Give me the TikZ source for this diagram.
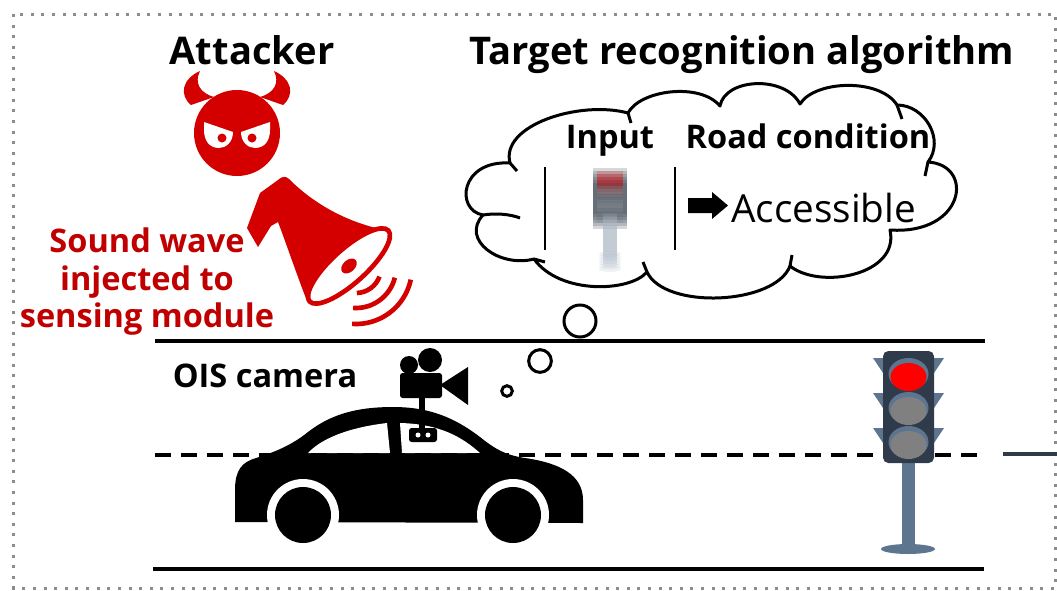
\documentclass[tikz,border=0pt]{standalone}
\usepackage{fontspec}
\setmainfont{Open Sans}
\usetikzlibrary{shapes,arrows,positioning,calc}

\definecolor{devilred}{RGB}{212,0,0}
\definecolor{textred}{RGB}{192,0,0}
\definecolor{signalbody}{RGB}{47,59,74}
\definecolor{signalpole}{RGB}{94,117,144}
\definecolor{lampgray}{RGB}{128,128,128}
\definecolor{framegray}{RGB}{140,140,140}

\begin{document}
\begin{tikzpicture}[x=0.75pt, y=-0.75pt,
    title/.style={font=\bfseries\fontsize{28.6}{30}\selectfont, anchor=base, inner sep=0pt},
    label/.style={font=\bfseries\fontsize{24.4}{28}\selectfont, anchor=base, inner sep=0pt},
    attack/.style={font=\bfseries\fontsize{24.4}{28.1}\selectfont, text=textred, align=center, inner sep=0pt},
    result/.style={font=\fontsize{29}{30}\selectfont, anchor=base west, inner sep=0pt},
    road/.style={line width=2.6pt},
    lane/.style={line width=2.4pt, dash pattern=on 12pt off 7.5pt},
    bubble/.style={draw, circle, line width=2.25pt, inner sep=0pt},
    puff/.style={line width=2.25pt, line join=round},
]
\useasboundingbox (0,0) rectangle (1057,590);

% dotted frame
\draw[framegray, line width=2.25pt, dash pattern=on 2.25pt off 5.7pt] (13.5,14) rectangle (1055.5,588);

% headings
\node[title] (attacker) at (252,64) {Attacker};
\node[title] (algo) at (742,64) {Target recognition algorithm};

% Attacker: devil head
\fill[devilred] (237,133) circle (43);
\fill[devilred] (191,105) .. controls (179,95) and (182,79) .. (200,71)
    .. controls (194,83) and (200,93) .. (214,97) -- cycle;
\fill[devilred] (283,105) .. controls (295,95) and (292,79) .. (274,71)
    .. controls (280,83) and (274,93) .. (260,97) -- cycle;
\fill[white] (204,122) -- (233,132) .. controls (233,142) and (226,148) .. (219,148)
    .. controls (209,148) and (204,140) .. (204,130) -- cycle;
\fill[white] (270,122) -- (241,132) .. controls (241,142) and (248,148) .. (255,148)
    .. controls (265,148) and (270,140) .. (270,130) -- cycle;
\fill[devilred] (222,138) circle (4.5) (252,138) circle (4.5);

% megaphone
\fill[devilred] (260,193) -- (278,180) .. controls (282,176) and (286,176) .. (289,179)
    .. controls (315,205) and (350,224) .. (390,231) -- (307,301)
    .. controls (295,270) and (285,240) .. (278,222) -- (271,226) -- (258,247) -- (247,228) -- cycle;
\begin{scope}[shift={(349,266)}, rotate=42]
  \filldraw[fill=white, draw=devilred, line width=3.5pt] (0,0) ellipse [x radius=53, y radius=17];
  \fill[devilred] (0,0) ellipse [x radius=9, y radius=6];
\end{scope}
\foreach \r/\a/\b in {25/20/88, 40/14/94, 56/12/94}
  \draw[devilred, line width=3.5pt] ($(356,268)+(\a:\r)$) arc[start angle=\a, end angle=\b, radius=\r];

\node[attack] (inject) at (147,282) {Sound wave\\injected to\\sensing module};

% thought cloud
\draw[puff] (510,163) .. controls (500,125) and (580,100) .. (628,113)
    .. controls (640,90) and (700,82) .. (720,106)
    .. controls (725,78) and (785,75) .. (800,104)
    .. controls (815,80) and (880,78) .. (897,105)
    .. controls (925,105) and (945,140) .. (928,162)
    .. controls (975,165) and (965,235) .. (890,230)
    .. controls (900,275) and (820,290) .. (790,266)
    .. controls (775,305) and (665,310) .. (647,272)
    .. controls (630,292) and (560,295) .. (534,259)
    .. controls (500,268) and (460,240) .. (483,215)
    .. controls (455,210) and (460,160) .. cycle;
\draw[puff] (483,215) .. controls (495,213) and (510,214) .. (520,218);
\draw[puff] (510,163) -- (517,171);
\draw[puff] (534,259) -- (545,262);
\draw[puff] (647,272) -- (643,262);
\draw[puff] (790,266) -- (792,255);
\draw[puff] (928,162) -- (925,176);
\draw[puff] (897,105) -- (902,119);
\draw[puff] (628,113) -- (631,123);

\node[bubble, minimum size=24pt] (bubbleA) at (580,321) {};
\node[bubble, minimum size=17pt] (bubbleB) at (540,361) {};
\node[bubble, minimum size=8pt] (bubbleC) at (507,391) {};

\node[label] (input) at (610,148) {Input};
\node[label] (cond) at (808,148) {Road condition};
\draw[line width=1.5pt] (545,167) -- (545,250);
\draw[line width=1.5pt] (675,167) -- (675,250);

% blurred input frame
\foreach \d in {-8,-5,...,7}{
  \begin{scope}[yshift=\d*0.75pt, opacity=0.2]
    \fill[signalpole!50] (603,220) rectangle (617,259);
    \fill[signalpole!50] (610,261) ellipse [x radius=11, y radius=3];
    \fill[signalbody] (593,175) rectangle (627,221);
    \fill[red] (597,178) rectangle (623,190);
    \fill[lampgray!70] (597,193) rectangle (623,201);
    \fill[lampgray!70] (597,207) rectangle (623,215);
  \end{scope}
}

\fill (688,198) -- (712,198) -- (712,192) -- (728,205.5) -- (712,219) -- (712,213) -- (688,213) -- cycle;
\node[result] (access) at (731,222) {Accessible};

% road
\draw[road] (155,341) -- (985,341);
\draw[road] (153,569) -- (984,569);
\draw[signalbody, line width=3pt] (1003,454) -- (1057,454);

\node[label] (ois) at (265,387) {OIS camera};

% car
\fill (235,522) -- (235,490) .. controls (235,470) and (242,462) .. (256,458)
    .. controls (275,452) and (292,445) .. (308,432)
    .. controls (330,415) and (355,407) .. (393,407)
    .. controls (430,407) and (455,418) .. (480,437)
    .. controls (495,449) and (505,455) .. (525,458)
    .. controls (560,463) and (583,475) .. (583,500)
    -- (583,523) -- cycle;
\fill[white] (308,453) .. controls (320,440) and (345,428) .. (387,423) -- (390,453) -- cycle;
\fill[white] (400,423) .. controls (440,424) and (462,437) .. (480,453) -- (402,453) -- cycle;
\fill[white] (303,515) circle (36) (513,515) circle (36);
\fill (303,515) circle (28) (513,515) circle (28);

\draw[lane] (155,455) -- (985,455);

% camera on the roof
\fill[rounded corners=2pt] (400,373) rectangle (442,398);
\fill (409,365) circle (9) (430,360) circle (12);
\fill (440,385) -- (468,367) -- (468,405) -- cycle;
\fill (419,396) rectangle (425,430);
\fill[rounded corners=2pt] (409,428) rectangle (437,442);
\fill[white] (418,435) circle (2.5) (428,435) circle (2.5);

% traffic light
\fill[signalpole] (902,460) rectangle (915,548);
\fill[signalpole] (908,549) ellipse [x radius=27, y radius=5];
\foreach \y in {358,393,428}{
  \fill[signalpole] (885,\y) -- (873,\y) -- (885,\y+18) -- cycle;
  \fill[signalpole] (932,\y) -- (944,\y) -- (932,\y+18) -- cycle;
}
\fill[signalbody, rounded corners=4pt] (883,351) rectangle (934,463);
\foreach \y/\c in {377/red, 411/lampgray, 445/lampgray}{
  \fill[signalpole] (908.5,\y-3) ellipse [x radius=20, y radius=16];
  \fill[\c] (908.5,\y) ellipse [x radius=18, y radius=14];
}

\end{tikzpicture}
\end{document}
